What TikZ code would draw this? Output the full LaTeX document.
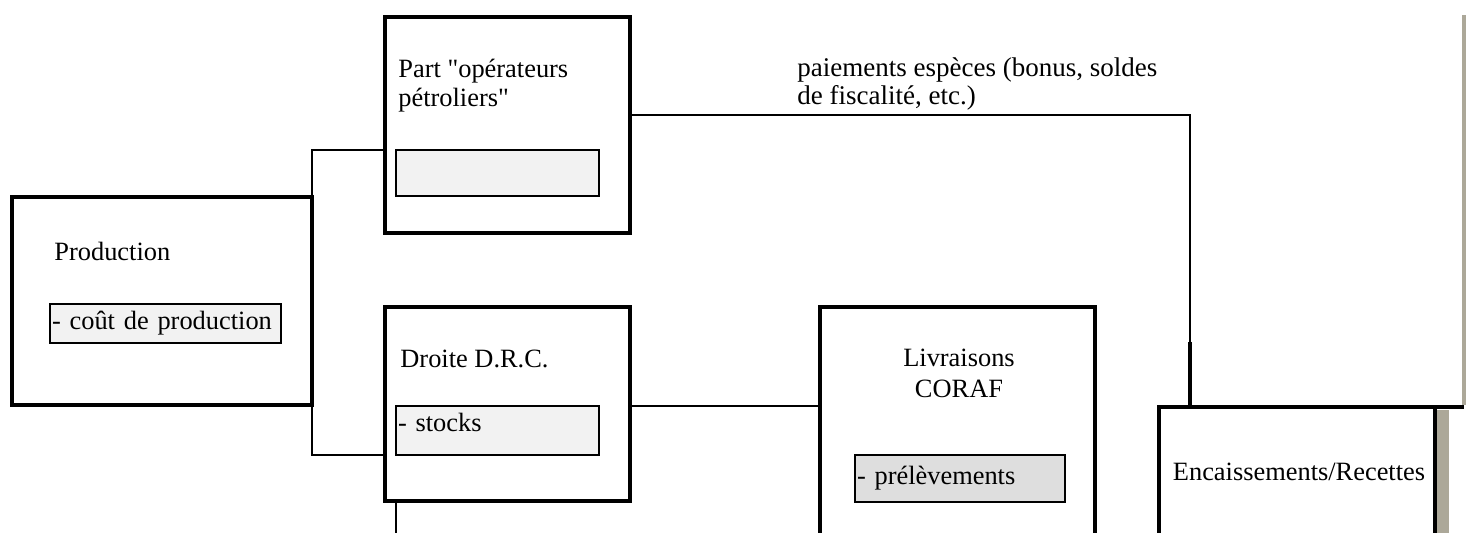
\documentclass[tikz,border=0pt]{standalone}
\usepackage{fontspec}
\setmainfont{Liberation Serif}
\usetikzlibrary{positioning}

\definecolor{fondclair}{HTML}{F2F2F2}
\definecolor{fondgris}{HTML}{DEDEDE}
\definecolor{ombre}{HTML}{ACA899}

\begin{document}
\begin{tikzpicture}[x=0.5pt, y=-0.5pt,
  every node/.style={font=\fontsize{13.2}{15}\selectfont},
  bloc/.style={draw, line width=2.2pt, inner sep=0pt, outer sep=0pt, anchor=north west},
  champ/.style={draw, line width=1.2pt, fill=fondclair, inner xsep=1pt, inner ysep=0pt,
    outer sep=0pt, anchor=north west, align=left},
  titre/.style={inner sep=0pt, anchor=base west},
  lien/.style={line width=1pt}]
  \useasboundingbox (0,0) rectangle (1467,533);
  \clip (0,0) rectangle (1467,533);

  % cadres
  \node[bloc, minimum width=150pt, minimum height=104pt] (prod) at (12,197) {};
  \node[bloc, minimum width=122.5pt, minimum height=108pt] (part) at (385,17) {};
  \node[bloc, minimum width=122.5pt, minimum height=97pt] (droite) at (385,307) {};
  \node[bloc, minimum width=137.5pt, minimum height=130pt] (livr) at (820,307) {};
  \fill[ombre] (1437,410) rectangle (1449,533);
  \fill[ombre] (1462,15) rectangle (1466,405);
  \node[bloc, minimum width=138pt, minimum height=80pt] (enc) at (1159,407) {};
  \draw[line width=2.2pt] (enc.north east) -- (1464,407);

  % champs
  \node[champ, text width=113.5pt, minimum height=19.5pt] (cout) at (50,304) {- coût de production};
  \node[champ, text width=99.5pt, minimum height=23pt] (partc) at (396,150) {};
  \node[champ, text width=99.5pt, minimum height=24.5pt, text depth=8pt] (stocks) at (396,406) {- stocks};
  \node[champ, fill=fondgris, text width=103pt, minimum height=23.5pt, text depth=3pt] (prel) at (855,455) {- prélèvements};

  % textes
  \node[titre] (tprod) at (54,261) {Production};
  \node[titre] (tpart) at (398,78) {Part \textquotedbl opérateurs};
  \node[titre] (tpart2) at (398,107) {pétroliers\textquotedbl};
  \node[titre] (tdroite) at (400,368) {Droite D.R.C.};
  \node[titre, anchor=base] (tlivr) at (959,367) {Livraisons};
  \node[titre, anchor=base] (tlivr2) at (959,398) {CORAF};
  \node[titre, anchor=base] (tenc) at (1299,481) {Encaissements/Recettes};
  \node[titre, font=\fontsize{13.5}{15}\selectfont] (tpaie) at (797,77) {paiements espèces (bonus, soldes};
  \node[titre, font=\fontsize{13.5}{15}\selectfont] (tpaie2) at (797,105) {de fiscalité, etc.)};

  % liaisons
  \coordinate (coude) at (1190,115);
  \coordinate (renfort) at (1190,342);
  \coordinate (bas) at (396,533);
  \draw[lien] (part.west |- partc.north) -| (prod.east |- stocks.south) -- (droite.west |- stocks.south);
  \draw[lien] (part.east |- coude) -- (coude) -- (renfort);
  \draw[line width=2pt] (renfort) -- (renfort |- enc.north);
  \draw[lien] (droite.east |- stocks.north) -- (livr.west |- stocks.north);
  \draw[lien] (droite.south -| stocks.west) -- (bas);
\end{tikzpicture}
\end{document}
